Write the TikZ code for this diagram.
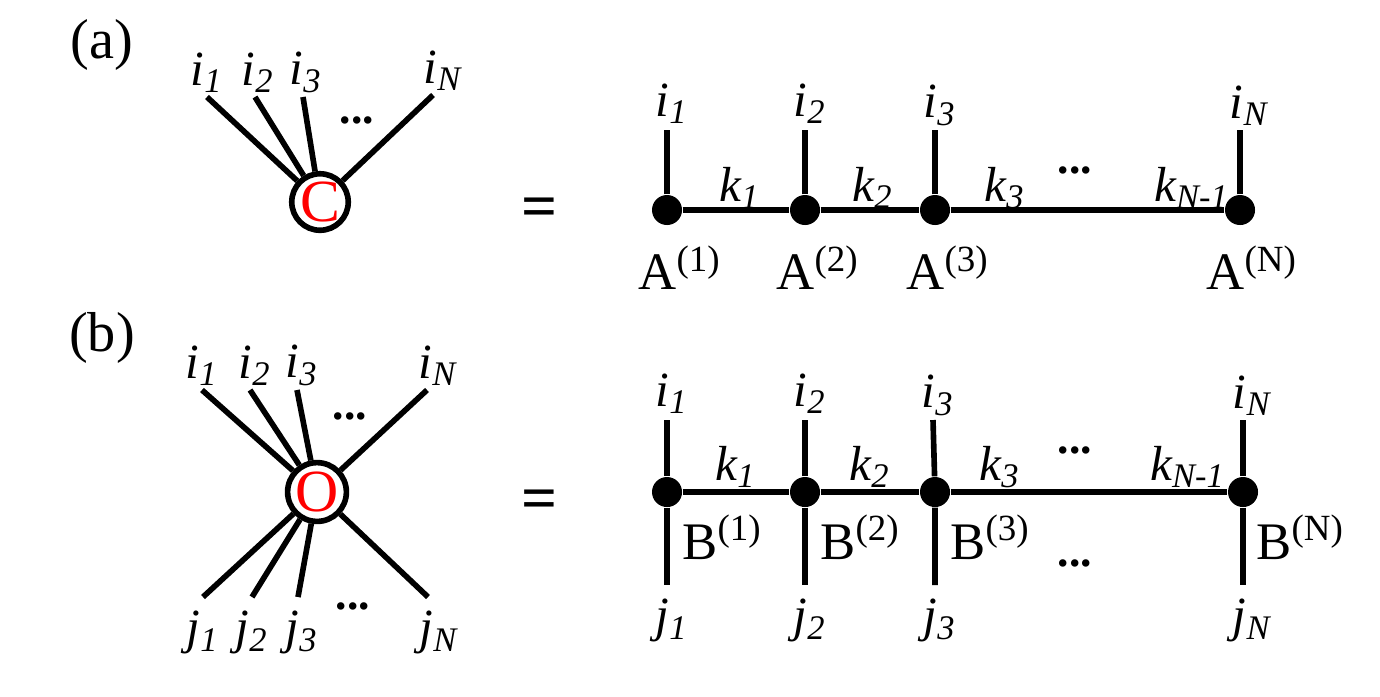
\documentclass[tikz,border=0pt]{standalone}
\usepackage{fontspec}
\setmainfont{Liberation Serif}
\usetikzlibrary{positioning}

\begin{document}
\begin{tikzpicture}[
    x=0.01cm, y=-0.01cm,
    leg/.style={line width=1.6pt},
    tensor/.style={circle, draw, line width=1.6pt, fill=white, inner sep=0pt, minimum size=0.56cm, text=red, font=\fontsize{17}{19}\selectfont},
    site/.style={circle, fill=black, inner sep=0pt, minimum size=0.3cm},
    idx/.style={inner sep=1pt, font=\fontsize{14}{16}\selectfont\itshape},
    mat/.style={inner sep=1pt, font=\fontsize{15}{17}\selectfont},
    dotsbox/.style={inner sep=0pt, font=\fontsize{13}{15}\selectfont\bfseries},
    panel/.style={inner sep=0pt, font=\fontsize{16}{18}\selectfont},
    equal/.style={inner sep=0pt, font=\fontsize{18}{20}\selectfont\bfseries}
]
\useasboundingbox (0,0) rectangle (1380,696);

% Panel labels
\node (pa) [panel] at (102,45) {(a)};
\node (pb) [panel] at (102,338) {(b)};

% (a) left: tensor C
\node (C) [tensor] at (320,202) {C};
\coordinate (ca1) at (207,97);
\coordinate (ca2) at (255,97);
\coordinate (ca3) at (303,97);
\coordinate (caN) at (433,95);
\node (lca1) [idx, above=0cm of ca1] {i\textsubscript{1}};
\node (lca2) [idx, above=0cm of ca2, xshift=0.03cm] {i\textsubscript{2}};
\node (lca3) [idx, above=0cm of ca3, xshift=0.03cm] {i\textsubscript{3}};
\node (lcaN) [idx, above=0cm of caN, xshift=0.1cm] {i\textsubscript{N}};
\node (dca) [dotsbox] at (357,120) {...};
\draw [leg] (C) -- (ca1);
\draw [leg] (C) -- (ca2);
\draw [leg] (C) -- (ca3);
\draw [leg] (C) -- (caN);

\node (eqa) [equal] at (540,213) {=};

% (a) right: MPS
\node (A1) [site] at (667,210) {};
\node (A2) [site] at (805,210) {};
\node (A3) [site] at (935,210) {};
\node (AN) [site] at (1240,210) {};
\coordinate (ta1) at (667,130);
\coordinate (ta2) at (805,130);
\coordinate (ta3) at (935,130);
\coordinate (taN) at (1240,130);
\node (lta1) [idx, above=0.02cm of ta1, xshift=0.05cm] {i\textsubscript{1}};
\node (lta2) [idx, above=0.02cm of ta2, xshift=0.05cm] {i\textsubscript{2}};
\node (lta3) [idx, above=0cm of ta3, xshift=0.05cm] {i\textsubscript{3}};
\node (ltaN) [idx, above=0cm of taN, xshift=0.09cm] {i\textsubscript{N}};
\node (ka1) [idx] at (740,188) {k\textsubscript{1}};
\node (ka2) [idx] at (873,188) {k\textsubscript{2}};
\node (ka3) [idx] at (1005,188) {k\textsubscript{3}};
\node (kaN) [idx] at (1192,188) {k\textsubscript{N-1}};
\node (dta) [dotsbox] at (1075,170) {...};
\node (mA1) [mat, below=0.16cm of A1, xshift=0.13cm] {A\textsuperscript{(1)}};
\node (mA2) [mat, below=0.16cm of A2, xshift=0.13cm] {A\textsuperscript{(2)}};
\node (mA3) [mat, below=0.16cm of A3, xshift=0.13cm] {A\textsuperscript{(3)}};
\node (mAN) [mat, below=0.16cm of AN, xshift=0.12cm] {A\textsuperscript{(N)}};
\draw [leg] (A1) -- (A2) -- (A3) -- (AN);
\draw [leg] (A1) -- (ta1);
\draw [leg] (A2) -- (ta2);
\draw [leg] (A3) -- (ta3);
\draw [leg] (AN) -- (taN);

% (b) left: operator O
\node (O) [tensor] at (317,492) {O};
\coordinate (ob1) at (202,390);
\coordinate (ob2) at (250,390);
\coordinate (ob3) at (297,390);
\coordinate (obN) at (427,390);
\coordinate (ub1) at (203,597);
\coordinate (ub2) at (252,597);
\coordinate (ub3) at (298,597);
\coordinate (ubN) at (428,597);
\node (lob1) [idx, above=0cm of ob1] {i\textsubscript{1}};
\node (lob2) [idx, above=0cm of ob2, xshift=0.05cm] {i\textsubscript{2}};
\node (lob3) [idx, above=0cm of ob3, xshift=0.05cm] {i\textsubscript{3}};
\node (lobN) [idx, above=0cm of obN, xshift=0.11cm] {i\textsubscript{N}};
\node (lub1) [idx, below=0.1cm of ub1] {j\textsubscript{1}};
\node (lub2) [idx, below=0.1cm of ub2] {j\textsubscript{2}};
\node (lub3) [idx, below=0.1cm of ub3, xshift=0.04cm] {j\textsubscript{3}};
\node (lubN) [idx, below=0.1cm of ubN, xshift=0.11cm] {j\textsubscript{N}};
\node (dob) [dotsbox] at (350,416) {...};
\node (dub) [dotsbox] at (353,606) {...};
\draw [leg] (O) -- (ob1);
\draw [leg] (O) -- (ob2);
\draw [leg] (O) -- (ob3);
\draw [leg] (O) -- (obN);
\draw [leg] (O) -- (ub1);
\draw [leg] (O) -- (ub2);
\draw [leg] (O) -- (ub3);
\draw [leg] (O) -- (ubN);

\node (eqb) [equal] at (540,505) {=};

% (b) right: MPO
\node (B1) [site] at (667,492) {};
\node (B2) [site] at (805,492) {};
\node (B3) [site] at (935,492) {};
\node (BN) [site] at (1243,492) {};
\coordinate (tb1) at (667,420);
\coordinate (tb2) at (805,420);
\coordinate (tb3) at (933,420);
\coordinate (tbN) at (1243,420);
\coordinate (bb1) at (667,585);
\coordinate (bb2) at (805,585);
\coordinate (bb3) at (935,585);
\coordinate (bbN) at (1243,585);
\node (ltb1) [idx, above=0.02cm of tb1, xshift=0.05cm] {i\textsubscript{1}};
\node (ltb2) [idx, above=0.02cm of tb2, xshift=0.05cm] {i\textsubscript{2}};
\node (ltb3) [idx, above=0cm of tb3, xshift=0.05cm] {i\textsubscript{3}};
\node (ltbN) [idx, above=0cm of tbN, xshift=0.09cm] {i\textsubscript{N}};
\node (lbb1) [idx, below=0.1cm of bb1, xshift=0.05cm] {j\textsubscript{1}};
\node (lbb2) [idx, below=0.1cm of bb2, xshift=0.05cm] {j\textsubscript{2}};
\node (lbb3) [idx, below=0.1cm of bb3, xshift=0.05cm] {j\textsubscript{3}};
\node (lbbN) [idx, below=0.1cm of bbN, xshift=0.09cm] {j\textsubscript{N}};
\node (kb1) [idx] at (736,467) {k\textsubscript{1}};
\node (kb2) [idx] at (870,467) {k\textsubscript{2}};
\node (kb3) [idx] at (1000,467) {k\textsubscript{3}};
\node (kbN) [idx] at (1188,467) {k\textsubscript{N-1}};
\node (dtb) [dotsbox] at (1075,450) {...};
\node (dbb) [dotsbox] at (1075,563) {...};
\node (mB1) [mat, below right=0.08cm and 0cm of B1] {B\textsuperscript{(1)}};
\node (mB2) [mat, below right=0.08cm and 0cm of B2] {B\textsuperscript{(2)}};
\node (mB3) [mat, below right=0.08cm and 0cm of B3] {B\textsuperscript{(3)}};
\node (mBN) [mat, below right=0.08cm and -0.02cm of BN] {B\textsuperscript{(N)}};
\draw [leg] (B1) -- (B2) -- (B3) -- (BN);
\draw [leg] (tb1) -- (B1) -- (bb1);
\draw [leg] (tb2) -- (B2) -- (bb2);
\draw [leg] (tb3) -- (B3) -- (bb3);
\draw [leg] (tbN) -- (BN) -- (bbN);

\end{tikzpicture}
\end{document}
